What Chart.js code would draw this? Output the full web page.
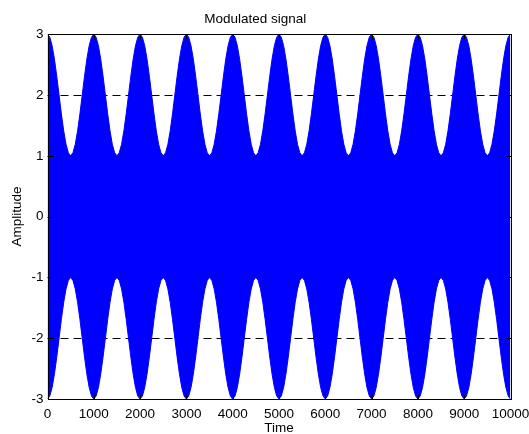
<!DOCTYPE html>
<html>
<head>
<meta charset="utf-8">
<script src="https://cdn.jsdelivr.net/npm/chart.js@4/dist/chart.umd.min.js"></script>
<style>
html,body{margin:0;padding:0;background:#fff;}
#wrap{width:529px;height:434px;}
</style>
</head>
<body>
<div id="wrap"><canvas id="c" width="529" height="434"></canvas></div>
<script>
// Time samples (x) where the envelope was read
const time = [
0,50,100,150,200,250,300,350,400,450,500,550,600,650,700,750,800,850,900,950,
1000,1050,1100,1150,1200,1250,1300,1350,1400,1450,1500,1550,1600,1650,1700,1750,1800,1850,1900,1950,
2000,2050,2100,2150,2200,2250,2300,2350,2400,2450,2500,2550,2600,2650,2700,2750,2800,2850,2900,2950,
3000,3050,3100,3150,3200,3250,3300,3350,3400,3450,3500,3550,3600,3650,3700,3750,3800,3850,3900,3950,
4000,4050,4100,4150,4200,4250,4300,4350,4400,4450,4500,4550,4600,4650,4700,4750,4800,4850,4900,4950,
5000,5050,5100,5150,5200,5250,5300,5350,5400,5450,5500,5550,5600,5650,5700,5750,5800,5850,5900,5950,
6000,6050,6100,6150,6200,6250,6300,6350,6400,6450,6500,6550,6600,6650,6700,6750,6800,6850,6900,6950,
7000,7050,7100,7150,7200,7250,7300,7350,7400,7450,7500,7550,7600,7650,7700,7750,7800,7850,7900,7950,
8000,8050,8100,8150,8200,8250,8300,8350,8400,8450,8500,8550,8600,8650,8700,8750,8800,8850,8900,8950,
9000,9050,9100,9150,9200,9250,9300,9350,9400,9450,9500,9550,9600,9650,9700,9750,9800,9850,9900,9950,
10000
];
// Upper envelope of the modulated signal
const upperEnvelope = [
3,2.95,2.81,2.59,2.31,2,1.69,1.41,1.19,1.05,1,1.05,1.19,1.41,1.69,2,2.31,2.59,2.81,2.95,
3,2.95,2.81,2.59,2.31,2,1.69,1.41,1.19,1.05,1,1.05,1.19,1.41,1.69,2,2.31,2.59,2.81,2.95,
3,2.95,2.81,2.59,2.31,2,1.69,1.41,1.19,1.05,1,1.05,1.19,1.41,1.69,2,2.31,2.59,2.81,2.95,
3,2.95,2.81,2.59,2.31,2,1.69,1.41,1.19,1.05,1,1.05,1.19,1.41,1.69,2,2.31,2.59,2.81,2.95,
3,2.95,2.81,2.59,2.31,2,1.69,1.41,1.19,1.05,1,1.05,1.19,1.41,1.69,2,2.31,2.59,2.81,2.95,
3,2.95,2.81,2.59,2.31,2,1.69,1.41,1.19,1.05,1,1.05,1.19,1.41,1.69,2,2.31,2.59,2.81,2.95,
3,2.95,2.81,2.59,2.31,2,1.69,1.41,1.19,1.05,1,1.05,1.19,1.41,1.69,2,2.31,2.59,2.81,2.95,
3,2.95,2.81,2.59,2.31,2,1.69,1.41,1.19,1.05,1,1.05,1.19,1.41,1.69,2,2.31,2.59,2.81,2.95,
3,2.95,2.81,2.59,2.31,2,1.69,1.41,1.19,1.05,1,1.05,1.19,1.41,1.69,2,2.31,2.59,2.81,2.95,
3,2.95,2.81,2.59,2.31,2,1.69,1.41,1.19,1.05,1,1.05,1.19,1.41,1.69,2,2.31,2.59,2.81,2.95,
3
];
// Lower envelope of the modulated signal
const lowerEnvelope = [
-3,-2.95,-2.81,-2.59,-2.31,-2,-1.69,-1.41,-1.19,-1.05,-1,-1.05,-1.19,-1.41,-1.69,-2,-2.31,-2.59,-2.81,-2.95,
-3,-2.95,-2.81,-2.59,-2.31,-2,-1.69,-1.41,-1.19,-1.05,-1,-1.05,-1.19,-1.41,-1.69,-2,-2.31,-2.59,-2.81,-2.95,
-3,-2.95,-2.81,-2.59,-2.31,-2,-1.69,-1.41,-1.19,-1.05,-1,-1.05,-1.19,-1.41,-1.69,-2,-2.31,-2.59,-2.81,-2.95,
-3,-2.95,-2.81,-2.59,-2.31,-2,-1.69,-1.41,-1.19,-1.05,-1,-1.05,-1.19,-1.41,-1.69,-2,-2.31,-2.59,-2.81,-2.95,
-3,-2.95,-2.81,-2.59,-2.31,-2,-1.69,-1.41,-1.19,-1.05,-1,-1.05,-1.19,-1.41,-1.69,-2,-2.31,-2.59,-2.81,-2.95,
-3,-2.95,-2.81,-2.59,-2.31,-2,-1.69,-1.41,-1.19,-1.05,-1,-1.05,-1.19,-1.41,-1.69,-2,-2.31,-2.59,-2.81,-2.95,
-3,-2.95,-2.81,-2.59,-2.31,-2,-1.69,-1.41,-1.19,-1.05,-1,-1.05,-1.19,-1.41,-1.69,-2,-2.31,-2.59,-2.81,-2.95,
-3,-2.95,-2.81,-2.59,-2.31,-2,-1.69,-1.41,-1.19,-1.05,-1,-1.05,-1.19,-1.41,-1.69,-2,-2.31,-2.59,-2.81,-2.95,
-3,-2.95,-2.81,-2.59,-2.31,-2,-1.69,-1.41,-1.19,-1.05,-1,-1.05,-1.19,-1.41,-1.69,-2,-2.31,-2.59,-2.81,-2.95,
-3,-2.95,-2.81,-2.59,-2.31,-2,-1.69,-1.41,-1.19,-1.05,-1,-1.05,-1.19,-1.41,-1.69,-2,-2.31,-2.59,-2.81,-2.95,
-3
];
const xTicks = [0,1000,2000,3000,4000,5000,6000,7000,8000,9000,10000];
const yTicks = [-3,-2,-1,0,1,2,3];
const gridLevels = [-2,-1,0,1,2];

const FONT = "'Liberation Sans', Arial, Helvetica, sans-serif";
const FS = 13.5;
const BLUE = '#0000ff';

const matlabAxes = {
  id: 'matlabAxes',
  beforeDatasetsDraw(chart) {
    const {ctx, chartArea: a, scales: {y}} = chart;
    ctx.save();
    ctx.strokeStyle = '#000';
    ctx.lineWidth = 1;
    ctx.setLineDash([8, 5]);
    gridLevels.forEach(v => {
      const py = Math.round(y.getPixelForValue(v)) + 0.5;
      ctx.beginPath();
      ctx.moveTo(a.left, py);
      ctx.lineTo(a.right, py);
      ctx.stroke();
    });
    ctx.restore();
  },
  afterDatasetsDraw(chart) {
    const {ctx, chartArea: a, scales: {x, y}} = chart;
    ctx.save();
    ctx.strokeStyle = '#000';
    ctx.lineWidth = 1;
    ctx.setLineDash([]);
    const L = Math.round(a.left) + 0.5, R = Math.round(a.right) + 0.5;
    const T = Math.round(a.top) + 0.5, B = Math.round(a.bottom) + 0.5;
    ctx.strokeRect(L, T, R - L, B - T);
    const tl = 5;
    ctx.beginPath();
    xTicks.forEach(v => {
      const px = Math.round(x.getPixelForValue(v)) + 0.5;
      ctx.moveTo(px, B); ctx.lineTo(px, B - tl);
      ctx.moveTo(px, T); ctx.lineTo(px, T + tl);
    });
    yTicks.forEach(v => {
      const py = Math.round(y.getPixelForValue(v)) + 0.5;
      ctx.moveTo(L, py); ctx.lineTo(L + tl, py);
      ctx.moveTo(R, py); ctx.lineTo(R - tl, py);
    });
    ctx.stroke();
    ctx.restore();
  }
};

new Chart(document.getElementById('c'), {
  type: 'line',
  data: {
    datasets: [
      {
        label: 'upper',
        data: time.map((t, i) => ({x: t, y: upperEnvelope[i]})),
        borderColor: BLUE,
        backgroundColor: BLUE,
        borderWidth: 1,
        pointRadius: 0,
        tension: 0,
        fill: false
      },
      {
        label: 'lower',
        data: time.map((t, i) => ({x: t, y: lowerEnvelope[i]})),
        borderColor: BLUE,
        backgroundColor: BLUE,
        borderWidth: 1,
        pointRadius: 0,
        tension: 0,
        fill: '-1'
      }
    ]
  },
  options: {
    responsive: false,
    animation: false,
    events: [],
    layout: {padding: {left: 0, right: 18.5, top: 0, bottom: 0}},
    plugins: {
      legend: {display: false},
      tooltip: {enabled: false},
      title: {
        display: true,
        text: 'Modulated signal',
        color: '#000',
        font: {family: FONT, size: FS, weight: 'normal', lineHeight: 1.2},
        padding: {top: 11, bottom: 7}
      }
    },
    scales: {
      x: {
        type: 'linear',
        min: 0, max: 10000,
        afterBuildTicks(s) { s.ticks = xTicks.map(v => ({value: v})); },
        afterFit(s) { s.height = 35; s.paddingLeft = 0; s.paddingRight = 0; },
        ticks: {color: '#000', font: {family: FONT, size: FS}, padding: 7, maxRotation: 0, autoSkip: false,
                callback: v => String(v)},
        grid: {display: false, drawTicks: false},
        border: {display: false},
        title: {display: true, text: 'Time', color: '#000', font: {family: FONT, size: FS}, padding: {top: -2, bottom: -2}}
      },
      y: {
        type: 'linear',
        min: -3, max: 3,
        afterBuildTicks(s) { s.ticks = yTicks.map(v => ({value: v})); },
        afterFit(s) { s.width = 47.5; s.paddingTop = 0; s.paddingBottom = 0; },
        ticks: {color: '#000', font: {family: FONT, size: FS}, padding: 4, callback: v => String(v)},
        grid: {display: false, drawTicks: false},
        border: {display: false},
        title: {display: true, text: 'Amplitude', color: '#000', font: {family: FONT, size: FS}, padding: {top: 9, bottom: 9}}
      }
    }
  },
  plugins: [matlabAxes]
});
</script>
</body>
</html>
